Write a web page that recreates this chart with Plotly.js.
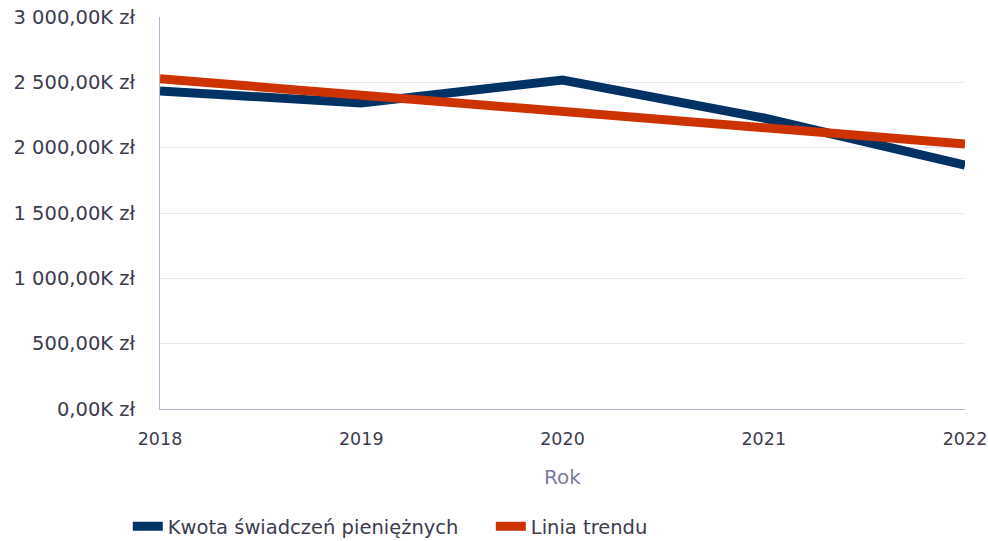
<!DOCTYPE html>
<html>
<head>
<meta charset="utf-8">
<script src="https://cdn.plot.ly/plotly-3.0.1.min.js"></script>
<style>html,body{margin:0;padding:0;background:#fff;}#chart{width:988px;height:541px;}</style>
</head>
<body>
<div id="chart"></div>
<script>
const years = ["2018", "2019", "2020", "2021", "2022"];
const kwota = [2434, 2342, 2518, 2227, 1867];
const trend = [2527, 2402, 2278, 2153, 2028];
const yTickVals = [0, 500, 1000, 1500, 2000, 2500, 3000];
const yTickText = ["0,00K zł", "500,00K zł", "1 000,00K zł", "1 500,00K zł", "2 000,00K zł", "2 500,00K zł", "3 000,00K zł"];

const fontFam = "'DejaVu Sans', Verdana, sans-serif";
const textCol = "#3c3c4e";

const data = [
  {x: years, y: kwota, type: "scatter", mode: "lines", name: "Kwota świadczeń pieniężnych",
   line: {color: "#003263", width: 9}},
  {x: years, y: trend, type: "scatter", mode: "lines", name: "Linia trendu",
   line: {color: "#cc3300", width: 9}}
];

const layout = {
  width: 988, height: 541,
  margin: {l: 160, r: 23, t: 17, b: 132, autoexpand: false},
  paper_bgcolor: "#ffffff", plot_bgcolor: "#ffffff",
  font: {family: fontFam, size: 19.5, color: textCol},
  showlegend: true,
  legend: {orientation: "h", x: -0.04, xanchor: "left", y: -0.30, yanchor: "middle",
    font: {family: fontFam, size: 19.5, color: textCol}, itemwidth: 30, traceorder: "normal",
    entrywidth: 318, entrywidthmode: "pixels"},
  xaxis: {
    type: "category", range: [0, 4], automargin: false,
    showgrid: false, showline: true, linecolor: "#b3b3d1", linewidth: 1,
    ticks: "", ticklabelstandoff: 14, tickfont: {size: 17.5, color: textCol},
    title: {text: "Rok", font: {size: 20, color: "#7c7c9c"}, standoff: 21}
  },
  yaxis: {
    range: [0, 3000], tickvals: yTickVals, ticktext: yTickText, automargin: false,
    showgrid: true, gridcolor: "#e6e6ef", gridwidth: 1,
    showline: true, linecolor: "#b3b3d1", linewidth: 1,
    zeroline: false, ticks: "", ticklabelstandoff: 20,
    tickfont: {size: 19.5, color: textCol}
  }
};

Plotly.newPlot("chart", data, layout, {displayModeBar: false, staticPlot: true});
</script>
</body>
</html>
